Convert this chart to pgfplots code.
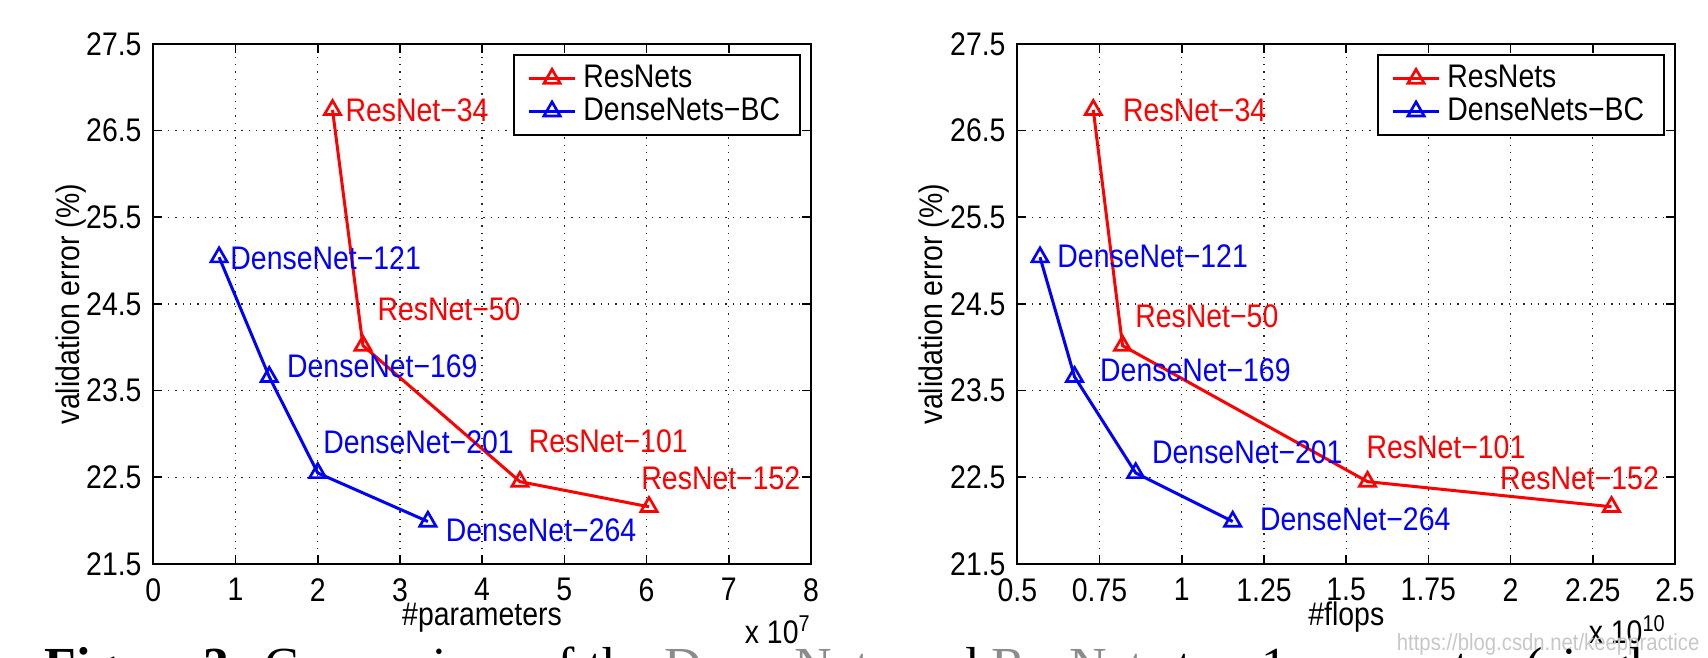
\documentclass[border=0pt]{standalone}
\usepackage{fontspec}
\setmainfont{Liberation Sans}[FakeStretch=0.87]
\newfontfamily\capfont{Liberation Serif}
\usepackage{pgfplots}
\pgfplotsset{compat=1.18}

\pgfplotsset{
  mystyle/.style={
    scale only axis, width=197.3pt, height=156pt,
    anchor=south west,
    axis line style={line width=0.6pt},
    every tick/.style={black, line width=0.5pt},
    major tick length=2.6pt,
    tick align=inside,
    ymin=21.5, ymax=27.5,
    ytick={21.5,22.5,23.5,24.5,25.5,26.5,27.5},
    yticklabels={21.5,22.5,23.5,24.5,25.5,26.5,27.5},
    grid=major,
    grid style={black!85, line width=0.4pt, dash pattern=on 0.4pt off 1.8pt},
    tick label style={font=\fontsize{9.8}{11}\selectfont},
    xticklabel style={yshift=-0.8pt},
    legend style={at={(0.985,0.981)}, anchor=north east, draw=black, line width=0.6pt,
      font=\fontsize{9.8}{11}\selectfont, inner xsep=4pt, inner ysep=1pt,
      row sep=-2.5pt},
    legend cell align=left,
    legend image code/.code={\draw[mark repeat=2,mark phase=2,#1] plot coordinates {(0cm,0cm)(0.245cm,0cm)(0.49cm,0cm)};},
  },
  res/.style={red, line width=0.9pt, mark=triangle, mark size=2.8pt, mark options={solid, line width=0.8pt}},
  den/.style={blue, line width=0.9pt, mark=triangle, mark size=2.8pt, mark options={solid, line width=0.8pt}},
}

\begin{document}
\begin{tikzpicture}[font=\fontsize{9.8}{11}\selectfont]
% ---------------- left: parameters ----------------
\begin{axis}[mystyle, at={(0pt,0pt)},
  xmin=0, xmax=8, xtick={0,1,...,8}, xticklabels={0,1,2,3,4,5,6,7,8}]
\addplot[res] coordinates {(2.18,26.74) (2.55,24.02) (4.46,22.45) (6.03,22.16)};
\addlegendentry{ResNets}
\addplot[den] coordinates {(0.80,25.04) (1.41,23.66) (2.00,22.55) (3.34,21.99)};
\addlegendentry{DenseNets−BC}
\node[red, anchor=west, inner sep=0] at (axis cs:2.33,26.73) {ResNet−34};
\node[red, anchor=west, inner sep=0] at (axis cs:2.72,24.44) {ResNet−50};
\node[red, anchor=west, inner sep=0] at (axis cs:4.56,22.92) {ResNet−101};
\node[red, anchor=west, inner sep=0] at (axis cs:5.93,22.49) {ResNet−152};
\node[blue, anchor=west, inner sep=0] at (axis cs:0.93,25.03) {DenseNet−121};
\node[blue, anchor=west, inner sep=0] at (axis cs:1.62,23.78) {DenseNet−169};
\node[blue, anchor=west, inner sep=0] at (axis cs:2.06,22.90) {DenseNet−201};
\node[blue, anchor=west, inner sep=0] at (axis cs:3.55,21.89) {DenseNet−264};
\end{axis}
\node[rotate=90, inner sep=0] at (-24.7pt,78pt) {validation error (\%)};
\node[anchor=base, inner sep=0] at (98.6pt,-18.6pt) {\#parameters};
\node[anchor=base east, inner sep=0] at (197.6pt,-23.8pt) {x 10\textsuperscript{7}};

% ---------------- right: flops ----------------
\begin{axis}[mystyle, at={(259.2pt,0pt)},
  xmin=0.5, xmax=2.5, xtick={0.5,0.75,1,1.25,1.5,1.75,2,2.25,2.5},
  xticklabels={0.5,0.75,1,1.25,1.5,1.75,2,2.25,2.5}]
\addplot[res] coordinates {(0.731,26.74) (0.82,24.02) (1.565,22.45) (2.307,22.16)};
\addlegendentry{ResNets}
\addplot[den] coordinates {(0.569,25.04) (0.674,23.66) (0.86,22.55) (1.155,21.99)};
\addlegendentry{DenseNets−BC}
\node[red, anchor=west, inner sep=0] at (axis cs:0.82,26.74) {ResNet−34};
\node[red, anchor=west, inner sep=0] at (axis cs:0.857,24.36) {ResNet−50};
\node[red, anchor=west, inner sep=0] at (axis cs:1.56,22.85) {ResNet−101};
\node[red, anchor=west, inner sep=0] at (axis cs:1.966,22.49) {ResNet−152};
\node[blue, anchor=west, inner sep=0] at (axis cs:0.62,25.05) {DenseNet−121};
\node[blue, anchor=west, inner sep=0] at (axis cs:0.75,23.74) {DenseNet−169};
\node[blue, anchor=west, inner sep=0] at (axis cs:0.908,22.79) {DenseNet−201};
\node[blue, anchor=west, inner sep=0] at (axis cs:1.236,22.02) {DenseNet−264};
\end{axis}
\node[rotate=90, inner sep=0] at (234.3pt,78pt) {validation error (\%)};
\node[anchor=base, inner sep=0] at (357.9pt,-18.6pt) {\#flops};
\node[anchor=base east, inner sep=0] at (454.1pt,-23.8pt) {x 10\textsuperscript{10}};

% watermark and cut-off caption
\node[anchor=east, inner sep=0, text=black!22, font=\fontsize{7}{8}\selectfont] at (464pt,-24pt) {https://blog.csdn.net/keeppractice};
\node[anchor=base west, inner sep=0, font=\capfont\fontsize{15.6}{18}\selectfont] at (-32.8pt,-36pt)
  {\textbf{Figure 3:} Comparison of the \textcolor{black!45}{DenseNets} and \textcolor{black!45}{ResNets} top-1 error rates (single-crop testing) on the ImageNet validation dataset};

\pgfresetboundingbox
\path[use as bounding box] (-46pt,-28.2pt) rectangle (466.4pt,169.2pt);
\end{tikzpicture}
\end{document}
